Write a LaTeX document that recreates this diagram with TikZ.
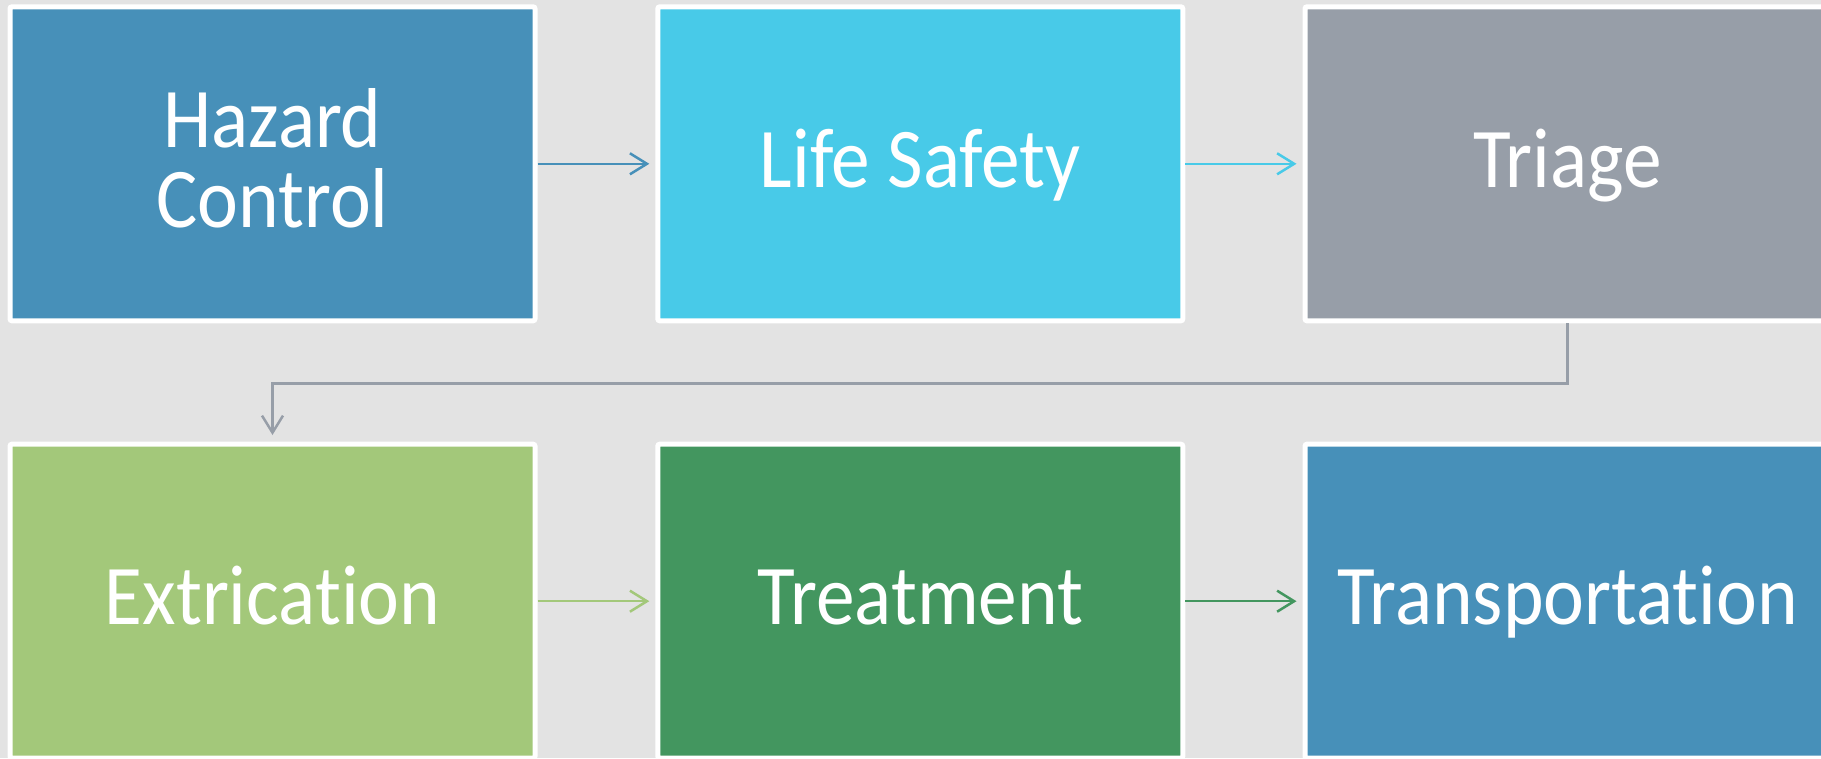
\documentclass[tikz,border=0pt]{standalone}
\usepackage{fontspec}
\setmainfont{Carlito}[FakeStretch=0.91, Ligatures={NoCommon}, RawFeature={-liga;-dlig;-clig}]
\usetikzlibrary{arrows.meta}
\definecolor{cA}{HTML}{4790B9}
\definecolor{cB}{HTML}{48CAE8}
\definecolor{cC}{HTML}{979EA8}
\definecolor{cD}{HTML}{A3C87A}
\definecolor{cE}{HTML}{43965F}
\definecolor{bgc}{HTML}{E3E3E3}
\tikzset{
  box/.style={draw=white, line width=5pt, rounded corners=2pt,
    minimum width=525pt, minimum height=314pt, inner sep=0pt},
  lbl/.style={text=white, inner sep=0pt, font=\fontsize{85}{80.4}\selectfont},
  flow/.style={line width=2.5pt, -{Straight Barb[length=17pt,width=21pt]}, shorten >=6pt},
}
\begin{document}
\begin{tikzpicture}[x=1pt,y=1pt]
\useasboundingbox (0,0) rectangle (1821,-758);
\clip (0,0) rectangle (1821,-758);
\fill[bgc] (0,0) rectangle (1821,-758);
% boxes
\node[box, fill=cA] (b1) at (272.5,-163.8) {};
\node[box, fill=cB] (b2) at (920.3,-163.8) {};
\node[box, fill=cC] (b3) at (1567.5,-163.8) {};
\node[box, fill=cD] (b4) at (272.5,-601.2) {};
\node[box, fill=cE] (b5) at (920.3,-601.2) {};
\node[box, fill=cA] (b6) at (1567.5,-601.2) {};
% labels
\node[lbl, anchor=base, align=center] (t1) at ([yshift=-63.9pt]b1.center) {Hazard\\Control};
\node[lbl, anchor=base] (t2) at ([yshift=-23.5pt]b2.center) {Life Safety};
\node[lbl, anchor=base] (t3) at ([yshift=-23.5pt]b3.center) {Triage};
\node[lbl, anchor=base] (t4) at ([yshift=-23.5pt]b4.center) {Extrication};
\node[lbl, anchor=base] (t5) at ([yshift=-23.5pt]b5.center) {Treatment};
\node[lbl, anchor=base] (t6) at ([yshift=-23.5pt]b6.center) {Transportation};
% connectors
\draw[flow, cA] (b1.east) -- (b2.west);
\draw[flow, cB] (b2.east) -- (b3.west);
\draw[flow, cC, shorten >=6.7pt] (b3.south) -- ++(0,-60) -| (b4.north);
\draw[flow, cD] (b4.east) -- (b5.west);
\draw[flow, cE] (b5.east) -- (b6.west);
\end{tikzpicture}
\end{document}
